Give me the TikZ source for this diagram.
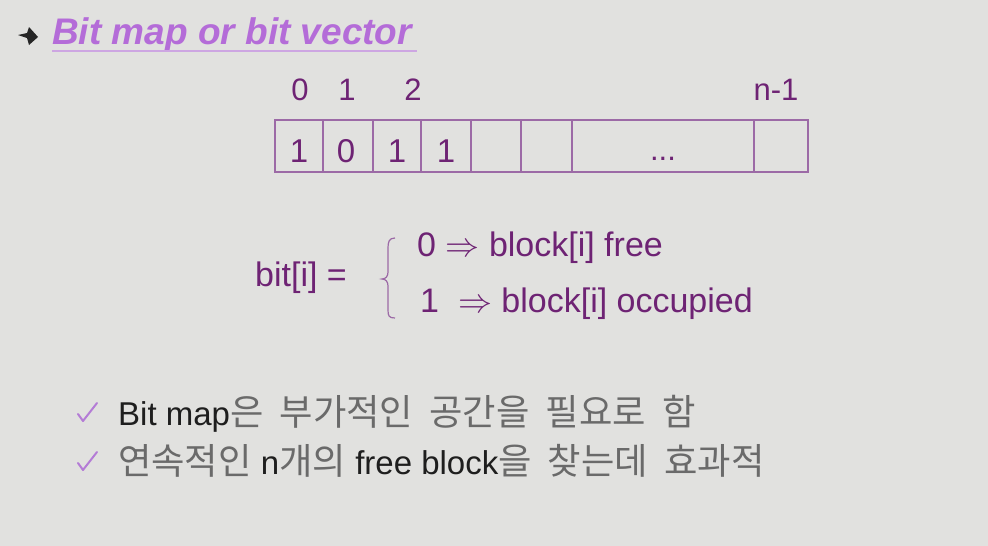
\documentclass[tikz,border=0pt]{standalone}
\usepackage{fix-cm}
\usepackage{fontspec}
\setmainfont{Liberation Sans}
\newfontfamily\krfont[Scale=1.1,WordSpace=2]{Noto Sans CJK KR}
\definecolor{slidebg}{HTML}{E1E1DF}
\definecolor{headviolet}{HTML}{B46CD8}
\definecolor{lineviolet}{HTML}{CDA6E2}
\definecolor{darkplum}{HTML}{6E2374}
\definecolor{cellplum}{HTML}{9C6AA6}
\definecolor{checkviolet}{HTML}{B47CD6}
\definecolor{krgray}{HTML}{6A6A6A}
\definecolor{latinblack}{HTML}{1E1E1E}
\newcommand{\kor}[1]{{\krfont\color{krgray}#1}}
\newcommand{\imp}{$\Rightarrow$}
\begin{document}
\begin{tikzpicture}[x=1pt,y=-1pt,
  idx/.style={text=darkplum,font=\fontsize{31}{36}\selectfont,anchor=base,inner sep=0pt},
  txt/.style={text=darkplum,font=\fontsize{34}{40}\selectfont,anchor=base west,inner sep=0pt},
  note/.style={text=latinblack,font=\fontsize{33}{40}\selectfont,anchor=base west,inner sep=0pt},
  cellline/.style={draw=cellplum,line width=1.3pt},
  tick/.style={draw=checkviolet,line width=2pt,line cap=round,line join=round}]
\fill[slidebg] (0,0) rectangle (988,546);
\useasboundingbox (0,0) rectangle (988,546);
% bullet
\fill[black!85] (18,35) -- (27,33) -- (29,27) -- (38,37) -- (29,45) -- (27,38) -- cycle;
\node[anchor=base west,inner sep=0pt,text=headviolet,
  font=\fontsize{37}{44}\selectfont\bfseries\itshape] (title) at (52,44) {Bit map or bit vector};
\draw[lineviolet,line width=1.6pt] (52,51) -- (417,51);
% bit cells
\draw[cellline] (275,120) rectangle (808,172);
\foreach \x in {323,373,421,471,521,572,754}
\draw[cellline] (\x,120) -- (\x,172);
\node[idx] (i0) at (300,100) {0};
\node[idx] (i1) at (347,100) {1};
\node[idx] (i2) at (413,100) {2};
\node[idx] (in) at (776,100) {n-1};
\foreach \x/\v [count=\i] in {299/1,346/0,397/1,446/1}
\node[idx,font=\fontsize{33}{40}\selectfont] (v\i) at (\x,162) {\v};
\node[idx] (dots) at (663,160) {...};
% bit[i] definition
\node[txt] (bit) at (255,286) {bit[i] =};
\draw[cellplum,line width=1.2pt] (395,238) .. controls (389,238) and (388,242) .. (388,248)
  -- (388,272) .. controls (388,276) and (386,279) .. (382,279)
  .. controls (386,279) and (388,282) .. (388,286)
  -- (388,310) .. controls (388,316) and (389,318) .. (395,318);
\node[txt] (free) at (417,256) {0 \imp\ block[i] free};
\node[txt] (used) at (420,312) {1\ \ \imp\ block[i] occupied};
% notes
\draw[tick] (78,414) -- (83,421) -- (97,403);
\draw[tick] (78,463) -- (83,470) -- (97,452);
\node[note] (note1) at (118,425) {Bit map\kor{은 부가적인 공간을 필요로 함}};
\node[note] (note2) at (118,474) {\kor{연속적인} n\kor{개의} free block\kor{을 찾는데 효과적}};
\end{tikzpicture}
\end{document}
